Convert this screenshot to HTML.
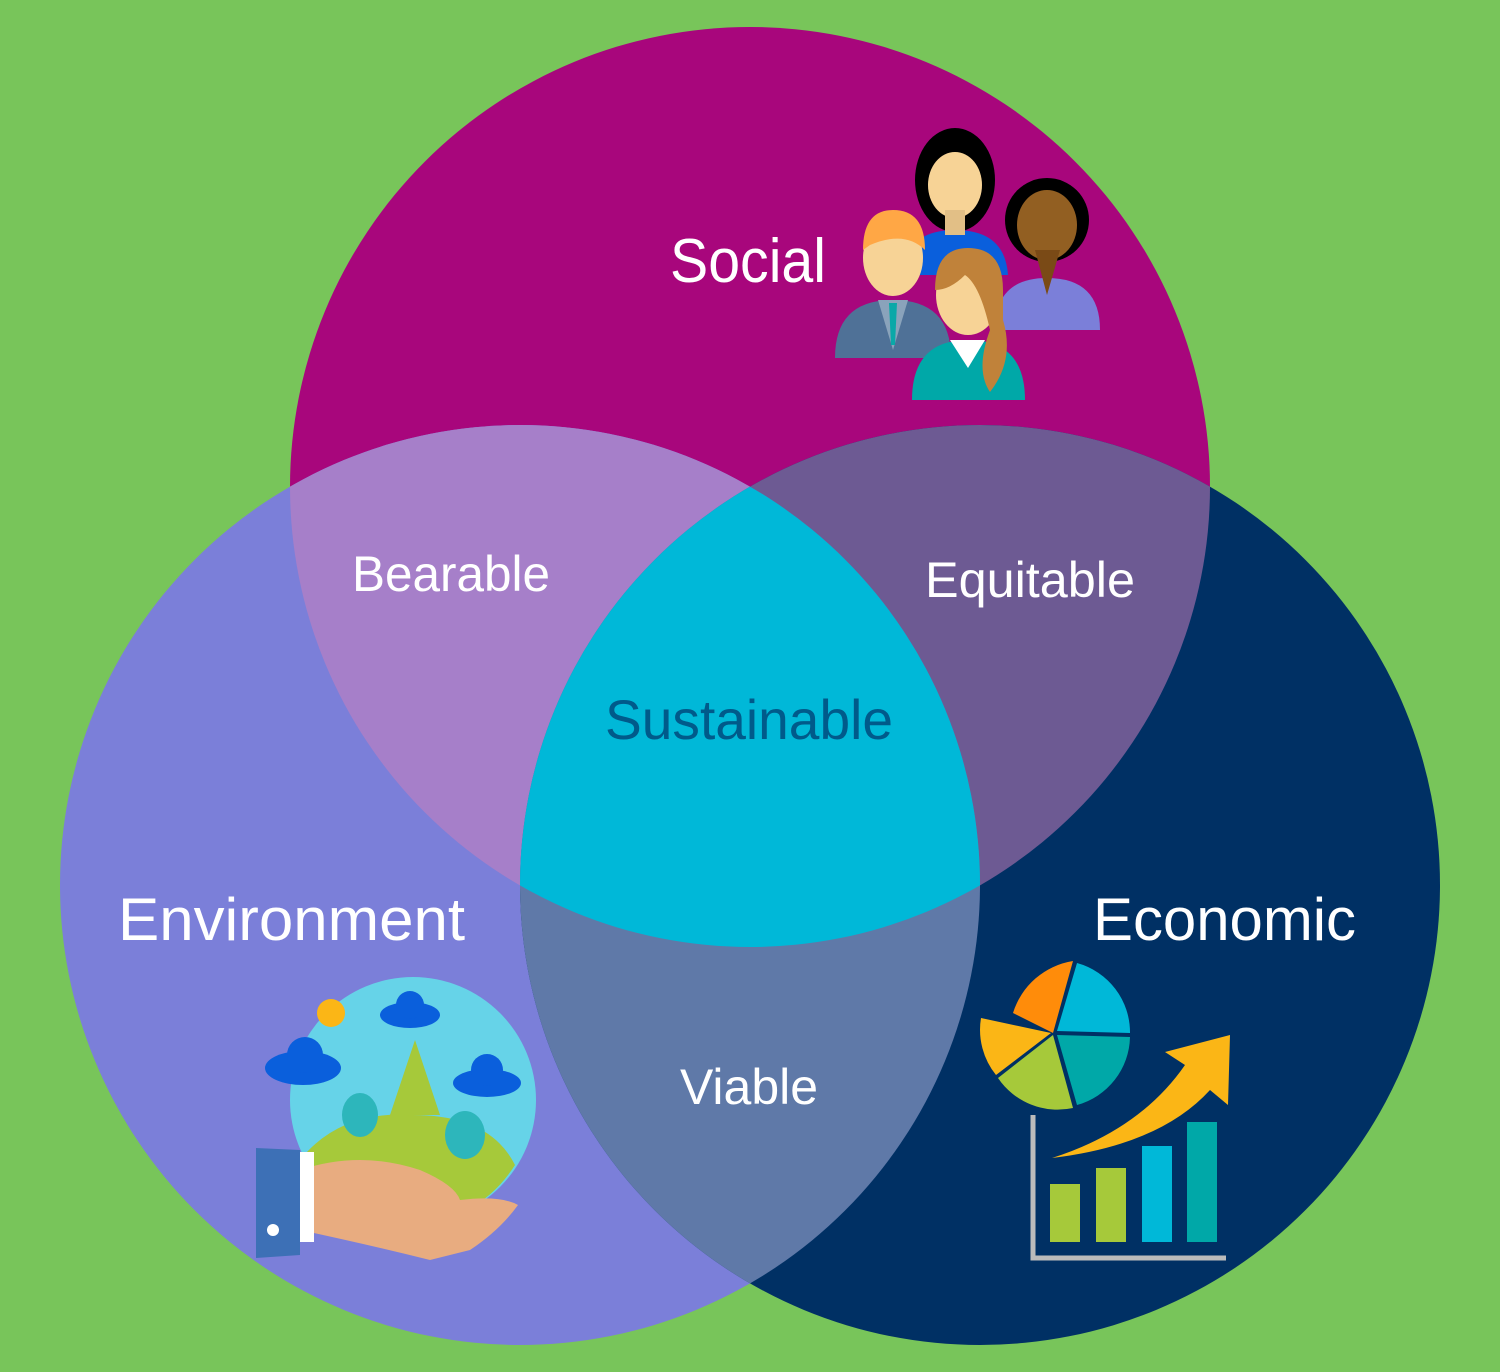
<!DOCTYPE html>
<html><head><meta charset="utf-8"><style>
html,body{margin:0;padding:0;background:#78c55a;}
svg{display:block}
text{font-family:"Liberation Sans",sans-serif;}
</style></head><body>
<svg width="1500" height="1372" viewBox="0 0 1500 1372" xmlns="http://www.w3.org/2000/svg">
<defs>
<clipPath id="cT"><circle cx="750" cy="487" r="460"/></clipPath>
<clipPath id="cL"><circle cx="520" cy="885" r="460"/></clipPath>
</defs>
<rect width="1500" height="1372" fill="#78c55a"/>
<circle cx="750" cy="487" r="460" fill="#a8067c"/>
<circle cx="520" cy="885" r="460" fill="#7b7fd9"/>
<circle cx="980" cy="885" r="460" fill="#003064"/>
<g clip-path="url(#cT)"><circle cx="520" cy="885" r="460" fill="#a67fc9"/><circle cx="980" cy="885" r="460" fill="#6d5a93"/></g>
<g clip-path="url(#cL)"><circle cx="980" cy="885" r="460" fill="#5f79a8"/></g>
<g clip-path="url(#cT)"><g clip-path="url(#cL)"><circle cx="980" cy="885" r="460" fill="#00b8d8"/></g></g>

<g fill="#fff" font-size="60">
<text x="670" y="282" font-size="62" textLength="156" lengthAdjust="spacingAndGlyphs">Social</text>
<text x="118" y="940" textLength="347" lengthAdjust="spacingAndGlyphs">Environment</text>
<text x="1093" y="940" textLength="263" lengthAdjust="spacingAndGlyphs">Economic</text>
</g>
<g fill="#fff" font-size="50">
<text x="352" y="591" textLength="198" lengthAdjust="spacingAndGlyphs">Bearable</text>
<text x="925" y="597" textLength="210" lengthAdjust="spacingAndGlyphs">Equitable</text>
<text x="680" y="1104" textLength="138" lengthAdjust="spacingAndGlyphs">Viable</text>
</g>
<text x="605" y="739" font-size="56" fill="#005a8a" textLength="288" lengthAdjust="spacingAndGlyphs">Sustainable</text>

<g>
<ellipse cx="955" cy="180" rx="40" ry="52" fill="#000"/>
<path d="M905 275 Q905 230 955 230 Q1005 230 1008 275 Z" fill="#0a5fdc"/>
<ellipse cx="955" cy="185" rx="27" ry="33" fill="#f7d396"/>
<rect x="945" y="210" width="20" height="25" fill="#e2bf86"/>
<circle cx="1047" cy="220" r="42" fill="#000"/>
<path d="M995 330 Q995 278 1047 278 Q1100 278 1100 330 Z" fill="#7b7fd9"/>
<ellipse cx="1047" cy="225" rx="30" ry="35" fill="#925f22"/>
<path d="M1035 250 L1060 250 L1047 295 Z" fill="#7a4a16"/>
<path d="M835 358 Q835 300 893 300 Q951 300 951 358 Z" fill="#4f7197"/>
<path d="M878 300 L893 350 L908 300 Z" fill="#8aa3bb"/>
<path d="M889 303 L897 303 L895 345 L891 345 Z" fill="#0aa8a8"/>
<ellipse cx="893" cy="258" rx="30" ry="38" fill="#f7d396"/>
<path d="M863 250 Q863 210 893 210 Q925 210 925 250 Q905 230 870 245 Z" fill="#ffa745"/>
<path d="M912 400 Q912 340 968 340 Q1025 340 1025 400 Z" fill="#00a8a8"/>
<path d="M950 340 L968 368 L985 340 Z" fill="#fff"/>
<ellipse cx="968" cy="295" rx="32" ry="40" fill="#f7d396"/>
<path d="M935 290 Q935 248 968 248 Q1003 248 1003 290 L1003 320 Q1015 360 990 392 Q975 370 990 330 Q980 285 965 275 Q950 290 935 290 Z" fill="#c0823a"/>
</g>

<circle cx="413" cy="1100" r="123" fill="#66d3e8"/>
<path d="M300 1160 Q340 1110 413 1115 Q490 1115 515 1165 Q480 1220 413 1223 Q340 1220 300 1160 Z" fill="#a6c93a"/>
<path d="M390 1115 L415 1040 L440 1115 Z" fill="#a6c93a"/>
<ellipse cx="360" cy="1115" rx="18" ry="22" fill="#2db6bb"/>
<ellipse cx="465" cy="1135" rx="20" ry="24" fill="#2db6bb"/>
<circle cx="331" cy="1013" r="14" fill="#fbb616"/>
<g fill="#0a5fdc">
<ellipse cx="303" cy="1068" rx="38" ry="17"/><circle cx="305" cy="1055" r="18"/>
<ellipse cx="410" cy="1015" rx="30" ry="13"/><circle cx="410" cy="1005" r="14"/>
<ellipse cx="487" cy="1083" rx="34" ry="14"/><circle cx="487" cy="1070" r="16"/>
</g>
<path d="M300 1170 Q360 1150 420 1170 Q455 1185 460 1200 Q500 1195 518 1205 Q500 1230 470 1250 L430 1260 Q370 1245 300 1230 Z" fill="#e8ac80"/>
<path d="M256 1148 L300 1150 L300 1255 L256 1258 Z" fill="#3d70b6"/>
<rect x="300" y="1152" width="14" height="90" fill="#fff"/>
<circle cx="273" cy="1230" r="6" fill="#fff"/>

<path d="M1033 1115 L1033 1258 L1226 1258" stroke="#bbbbbb" stroke-width="5" fill="none"/>
<rect x="1050" y="1184" width="30" height="58" fill="#a6c93a"/>
<rect x="1096" y="1168" width="30" height="74" fill="#a6c93a"/>
<rect x="1142" y="1146" width="30" height="96" fill="#00b8d8"/>
<rect x="1187" y="1122" width="30" height="120" fill="#00a8a8"/>
<path d="M1052 1158 Q1140 1130 1185 1065 L1165 1052 L1230 1035 L1228 1105 L1210 1090 Q1160 1145 1052 1158 Z" fill="#fbb616"/>
<g transform="translate(1053,1033)">
<path d="M0 0 L-40 -20 A75 75 0 0 1 20 -72 Z" fill="#ff8c0a"/>
<path d="M4 -2 L24 -70 A72 72 0 0 1 77 0 Z" fill="#00b8d8"/>
<path d="M4 2 L77 4 A72 72 0 0 1 24 72 Z" fill="#00a8a8"/>
<path d="M0 2 L20 75 A72 72 0 0 1 -55 45 Z" fill="#a6c93a"/>
<path d="M-2 0 L-57 42 A72 72 0 0 1 -72 -15 Z" fill="#fbb616"/>
</g>
</svg>
</body></html>
